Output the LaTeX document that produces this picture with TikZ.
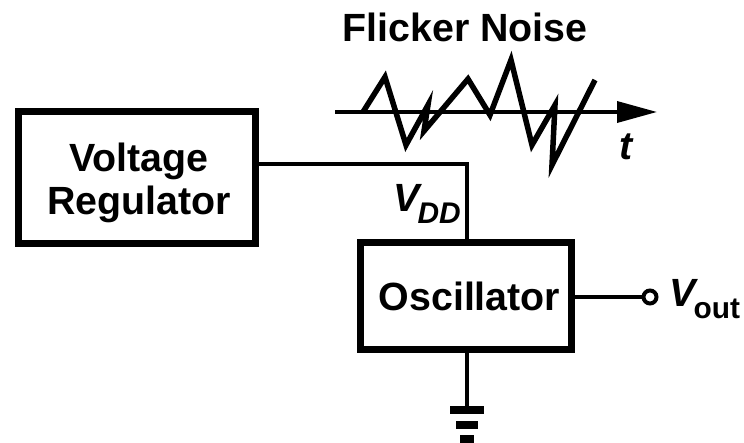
\documentclass[tikz,border=0pt]{standalone}
\usepackage{fontspec}
\setmainfont{Liberation Sans}
\usetikzlibrary{arrows.meta}
\tikzset{
    block/.style={draw,line width=0.14cm,inner sep=0,outer sep=0},
    label/.style={inner sep=0,align=center,font=\fontsize{22.4}{24.5}\selectfont\bfseries},
    wire/.style={line width=0.08cm},
    gndbar/.style={draw=none,fill=black,inner sep=0,outer sep=0},
}
\newcommand{\volt}[2]{\textit{V}\kern-0.12em\raisebox{-0.28em}{\fontsize{17}{17}\selectfont #2{#1}}}
\begin{document}
\begin{tikzpicture}
    \useasboundingbox (0,0) rectangle (14.88,8.86);

    \node[label] (title) at (9.30,8.32) {Flicker Noise};

    \coordinate (axisstart) at (6.70,6.62);
    \coordinate (axisend) at (13.14,6.62);
    \draw[line width=0.07cm,-{Triangle[length=0.8cm,width=0.42cm]}] (axisstart) -- (axisend);
    \node[label] (tlabel) at (12.54,5.92) {\textit{t}};

    \draw[line width=0.11cm] (7.26,6.62) -- (7.70,7.32) -- (8.12,5.96) -- (8.56,6.76)
        -- (8.48,6.24) -- (9.36,7.28) -- (9.80,6.56) -- (10.22,7.66) -- (10.64,5.96)
        -- (11.10,6.76) -- (11.04,5.56) -- (11.90,7.26);

    \node[block,minimum width=4.74cm,minimum height=2.65cm] (regulator) at (2.74,5.305) {};
    \node[label] (reglabel) at (2.78,5.21) {Voltage\\Regulator};

    \node[block,minimum width=4.21cm,minimum height=2.13cm] (oscillator) at (9.32,2.935) {};
    \node[label] (osclabel) at (9.39,2.935) {Oscillator};

    \coordinate (regout) at (regulator.east |- 0,5.58);
    \coordinate (corner) at (9.34,5.58);
    \draw[wire] (regout) -- (corner) -- (corner |- oscillator.north);
    \node[label,anchor=base east] (vdd) at (9.22,4.62) {\volt{DD}{\itshape}};

    \node[circle,draw,wire,fill=white,minimum size=0.26cm,inner sep=0,outer sep=0] (outpin) at (13.00,2.92) {};
    \draw[wire] (oscillator.east |- outpin) -- (outpin);
    \node[label,anchor=base west] (vout) at (13.38,2.72) {\volt{out}{}};

    \node[gndbar,minimum width=0.68cm,minimum height=0.16cm] (gnda) at (9.34,0.66) {};
    \node[gndbar,minimum width=0.44cm,minimum height=0.16cm] (gndb) at (9.34,0.36) {};
    \node[gndbar,minimum width=0.29cm,minimum height=0.16cm] (gndc) at (9.34,0.08) {};
    \draw[wire] (gnda |- oscillator.south) -- (gnda);
\end{tikzpicture}
\end{document}
